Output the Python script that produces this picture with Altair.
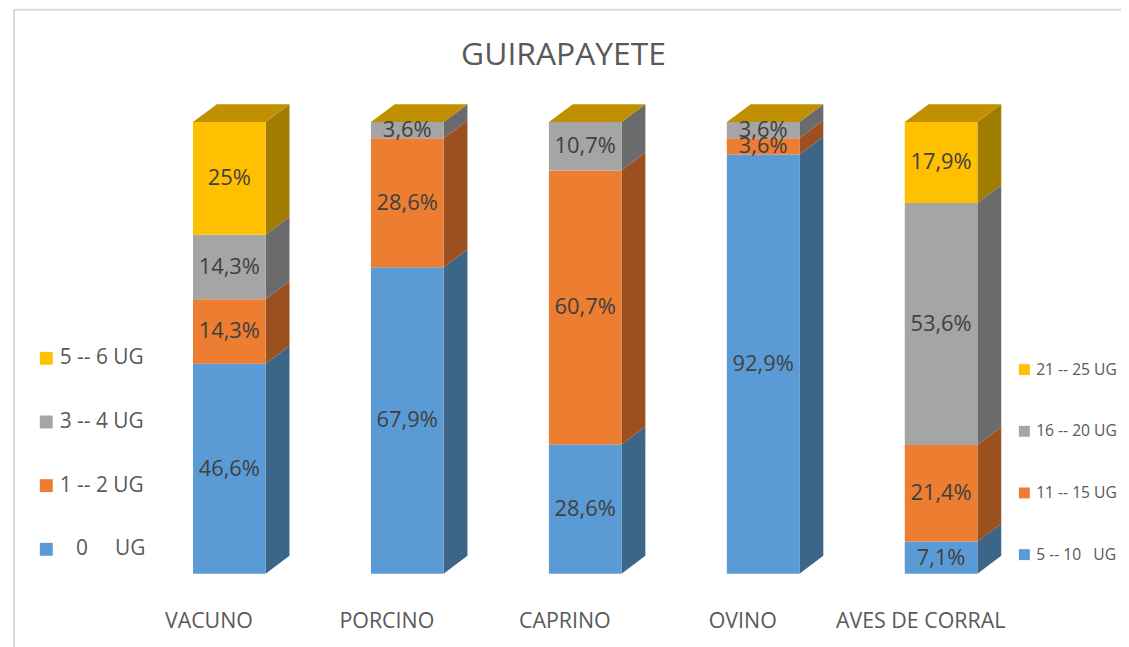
import altair as alt
import pandas as pd

categories = ["VACUNO", "PORCINO", "CAPRINO", "OVINO", "AVES DE CORRAL"]
blue_vals = [46.6, 67.9, 28.6, 92.9, 7.1]
orange_vals = [14.3, 28.6, 60.7, 3.6, 21.4]
gray_vals = [14.3, 3.6, 10.7, 3.6, 53.6]
yellow_vals = [25.0, 0.0, 0.0, 0.0, 17.9]

legend_left = ["\u200b\u00a0\u00a0\u00a00\u00a0\u00a0\u00a0\u00a0\u00a0UG", "1 -- 2 UG", "3 -- 4 UG", "5 -- 6 UG"]
legend_right = ["5 -- 10\u00a0\u00a0\u00a0UG", "11 -- 15 UG", "16 -- 20 UG", "21 -- 25 UG"]

front_colors = ["#5b9bd5", "#ed7d31", "#a5a5a5", "#ffc000"]
side_colors = ["#3d6588", "#9c5020", "#6b6b6b", "#a07c00"]
top_color = "#c09000"

FONT = "Open Sans"
TXT = "#595959"

W, H = 1113, 454
CAT_STEP = 178.9
FIRST_CENTER = 216.5
BAR_W = 73
DX_PX, DY_PX = 24, 18

x_lo = -FIRST_CENTER / CAT_STEP
x_hi = x_lo + W / CAT_STEP
hw = (BAR_W / 2) / CAT_STEP
dxu = DX_PX / CAT_STEP
dyu = DY_PX * 100.0 / H

series = [blue_vals, orange_vals, gray_vals, yellow_vals]

def fmt(v):
    if abs(v - round(v)) < 1e-9:
        return f"{int(round(v))}%"
    return f"{v:.1f}".replace(".", ",") + "%"

seg_rows, side_rows, top_rows = [], [], []
for i, cat in enumerate(categories):
    vals = [s[i] for s in series]
    total = sum(vals)
    acc = 0.0
    for j, v in enumerate(vals):
        lo = acc / total * 100
        acc += v
        hi = acc / total * 100
        key = f"{i}-{j}"
        grp = "A" if i < 4 else "B"
        lab = (legend_left if grp == "A" else legend_right)[j]
        seg_rows.append(dict(idx=i, cat=cat, j=j, grp=grp, legend=lab,
                             lo=lo, hi=hi, mid=(lo + hi) / 2,
                             label=fmt(v) if v > 0 else "", val=v, key=key))
        if v > 0:
            side_rows.append(dict(key=key, j=j, x=i + hw, y=lo, y2=hi))
            side_rows.append(dict(key=key, j=j, x=i + hw + dxu, y=lo + dyu, y2=hi + dyu))
    top_rows.append(dict(key=f"t{i}", y=100.0, x=i - hw, x2=i + hw))
    top_rows.append(dict(key=f"t{i}", y=100.0 + dyu, x=i - hw + dxu, x2=i + hw + dxu))

seg = pd.DataFrame(seg_rows)
side = pd.DataFrame(side_rows)
top = pd.DataFrame(top_rows)

xscale = alt.Scale(domain=[x_lo, x_hi], nice=False, zero=False, padding=0)
yscale = alt.Scale(domain=[0, 100], nice=False, zero=False, padding=0)

label_expr = "[" + ",".join(f"'{c}'" for c in categories) + "][datum.value]"
xaxis = alt.Axis(values=list(range(len(categories))), labelExpr=label_expr,
                 grid=False, domain=False, ticks=False, title=None,
                 labelFont=FONT, labelFontSize=21.5, labelColor=TXT,
                 labelPadding=37, labelBaseline="top", labelOffset=-21)

def X(field):
    return alt.X(field, scale=xscale, axis=xaxis)

def Y(field):
    return alt.Y(field, scale=yscale, axis=None, stack=None)

side_layer = alt.Chart(side).mark_area(orient="vertical").encode(
    x=X("x:Q"), y=Y("y:Q"), y2="y2:Q", detail="key:N",
    color=alt.Color("j:O", scale=alt.Scale(domain=[0, 1, 2, 3], range=side_colors), legend=None),
)

top_layer = alt.Chart(top).mark_area(orient="horizontal", color=top_color).encode(
    y=Y("y:Q"), x=X("x:Q"), x2="x2:Q", detail="key:N",
)

def front(grp, labels, lx, ly, fsize, ssize, rowpad, loff):
    d = seg[(seg.grp == grp) & (seg.val > 0)]
    dom = list(reversed(labels))
    rng = list(reversed(front_colors))
    return alt.Chart(d).mark_bar(size=BAR_W).encode(
        x=X("idx:Q"), y=Y("lo:Q"), y2="hi:Q",
        color=alt.Color("legend:N", scale=alt.Scale(domain=dom, range=rng),
                        legend=alt.Legend(orient="none", legendX=lx, legendY=ly, title=None,
                                          symbolType="square", symbolSize=ssize,
                                          symbolStrokeWidth=0, labelFont=FONT,
                                          labelFontSize=fsize, labelColor=TXT,
                                          rowPadding=rowpad, labelOffset=loff,
                                          padding=0, labelLimit=300)),
    )

front_a = front("A", legend_left, 22, 227, 21, 169, 42, 3)
front_b = front("B", legend_right, 1008, 241, 15.7, 121, 45, 4)

labels = alt.Chart(seg[seg.val > 0]).mark_text(font=FONT, fontSize=22, color="#404040").encode(
    x=X("idx:Q"), y=Y("mid:Q"), text="label:N",
)

one = alt.Data(values=[{"a": 1}])
border_left = alt.Chart(one).mark_rule(color="#d9d9d9", strokeWidth=2).encode(
    x=alt.value(0), y=alt.value(-113), y2=alt.value(530))
border_top = alt.Chart(one).mark_rule(color="#d9d9d9", strokeWidth=2).encode(
    x=alt.value(0), x2=alt.value(W + 10), y=alt.value(-113))

chart = alt.layer(
    border_left, border_top, side_layer, top_layer, front_a, front_b, labels
).resolve_scale(color="independent").properties(
    width=W, height=H,
    background="white",
    autosize=alt.AutoSizeParams(type="none"),
    padding={"left": 6, "top": 113, "right": 0, "bottom": 72},
    title=alt.TitleParams("GUIRAPAYETE", font=FONT, fontSize=32, fontWeight="normal",
                          color=TXT, anchor="middle", frame="group", dx=-4, offset=0, dy=64),
).configure_view(stroke=None)

chart.save("out.html", embed_options={"renderer": "svg", "actions": False})
